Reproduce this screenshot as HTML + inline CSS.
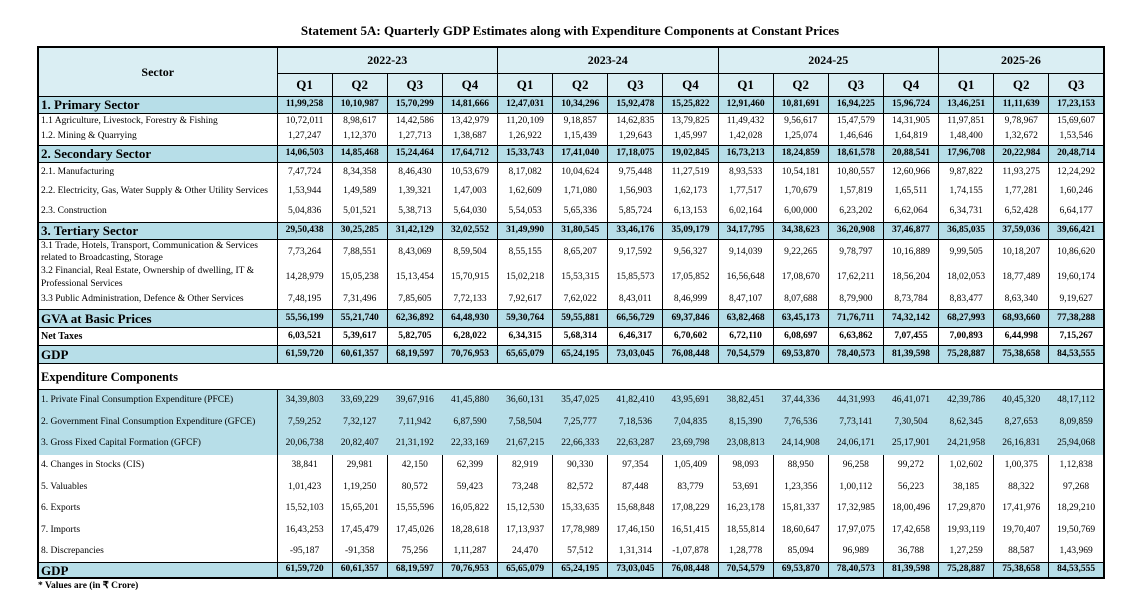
<!DOCTYPE html>
<html><head><meta charset="utf-8">
<style>
html,body{margin:0;padding:0;background:#fff;width:1125px;height:606px;overflow:hidden;font-family:"Liberation Serif",serif;color:#000}
#title{position:absolute;left:0;width:1140px;top:23px;text-align:center;font-weight:bold;font-size:13px}
#tbl{position:absolute;left:37px;top:46px;border-collapse:collapse;table-layout:fixed;border:2px solid #000}
#tbl td{padding:0;overflow:hidden;white-space:nowrap;border-left:1px solid #000;border-right:1px solid #000;font-size:9.5px;text-align:center;line-height:1}
#tbl td.lab{text-align:left;padding-left:2px;font-size:9.5px}
#tbl tr.hd td{background:#daeef3;font-weight:bold;border:1.5px solid #000}
#tbl tr.major td{background:#b7dee8;font-weight:bold;border-top:1.5px solid #000;border-bottom:1.5px solid #000}
#tbl tr.major td.lab{font-size:13px}
#tbl tr.net td{font-weight:bold;border-top:1.5px solid #000;border-bottom:1.5px solid #000}
#tbl tr.net td.lab{font-size:10px}
#tbl tr.exh td{border-top:1.5px solid #000;border-bottom:1px solid #000;font-weight:bold;font-size:12.5px}
#tbl tr.exp td{background:#b7dee8;border-left:1px solid #b7dee8;border-right:1px solid #b7dee8}
#tbl tr.exp td.lab{border-left:1px solid #000;border-right:1px solid #000}
#tbl tr.exp td.last{border-right:1px solid #000}
#tbl td.wrap{white-space:normal;line-height:1.35}
#note{position:absolute;left:38px;top:580px;font-size:9.5px;font-weight:bold}
</style></head><body>
<div id="title">Statement 5A: Quarterly GDP Estimates along with Expenditure Components at Constant Prices</div>
<table id="tbl"></table>
<div id="note">* Values are (in ₹ Crore)</div>
<script>
const years=["2022-23","2023-24","2024-25","2025-26"];
const quarterCounts=[4,4,4,3];
const rowLabels=["1. Primary Sector","1.1 Agriculture, Livestock, Forestry & Fishing","1.2. Mining & Quarrying","2. Secondary Sector","2.1. Manufacturing","2.2. Electricity, Gas, Water Supply & Other Utility Services","2.3. Construction","3. Tertiary Sector","3.1 Trade, Hotels, Transport, Communication & Services related to Broadcasting, Storage","3.2 Financial, Real Estate, Ownership of dwelling, IT & Professional Services","3.3 Public Administration, Defence & Other Services","GVA at Basic Prices","Net Taxes","GDP","Expenditure Components","1. Private Final Consumption Expenditure (PFCE)","2. Government Final Consumption Expenditure (GFCE)","3. Gross Fixed Capital Formation (GFCF)","4. Changes in Stocks (CIS)","5. Valuables","6. Exports","7. Imports","8. Discrepancies","GDP"];
const rowTypes=["major","minor","minor","major","minor","minor","minor","major","minor","minor","minor","major","net","major","exh","exp","exp","exp","minor","minor","minor","minor","minor","major"];
const rowHeights=[17,16,16,17,20,20,20,17,25,25,19,18,18,18,26,22,21,22,22,21,22,22,21,15];
const values=[
["11,99,258","10,10,987","15,70,299","14,81,666","12,47,031","10,34,296","15,92,478","15,25,822","12,91,460","10,81,691","16,94,225","15,96,724","13,46,251","11,11,639","17,23,153"],
["10,72,011","8,98,617","14,42,586","13,42,979","11,20,109","9,18,857","14,62,835","13,79,825","11,49,432","9,56,617","15,47,579","14,31,905","11,97,851","9,78,967","15,69,607"],
["1,27,247","1,12,370","1,27,713","1,38,687","1,26,922","1,15,439","1,29,643","1,45,997","1,42,028","1,25,074","1,46,646","1,64,819","1,48,400","1,32,672","1,53,546"],
["14,06,503","14,85,468","15,24,464","17,64,712","15,33,743","17,41,040","17,18,075","19,02,845","16,73,213","18,24,859","18,61,578","20,88,541","17,96,708","20,22,984","20,48,714"],
["7,47,724","8,34,358","8,46,430","10,53,679","8,17,082","10,04,624","9,75,448","11,27,519","8,93,533","10,54,181","10,80,557","12,60,966","9,87,822","11,93,275","12,24,292"],
["1,53,944","1,49,589","1,39,321","1,47,003","1,62,609","1,71,080","1,56,903","1,62,173","1,77,517","1,70,679","1,57,819","1,65,511","1,74,155","1,77,281","1,60,246"],
["5,04,836","5,01,521","5,38,713","5,64,030","5,54,053","5,65,336","5,85,724","6,13,153","6,02,164","6,00,000","6,23,202","6,62,064","6,34,731","6,52,428","6,64,177"],
["29,50,438","30,25,285","31,42,129","32,02,552","31,49,990","31,80,545","33,46,176","35,09,179","34,17,795","34,38,623","36,20,908","37,46,877","36,85,035","37,59,036","39,66,421"],
["7,73,264","7,88,551","8,43,069","8,59,504","8,55,155","8,65,207","9,17,592","9,56,327","9,14,039","9,22,265","9,78,797","10,16,889","9,99,505","10,18,207","10,86,620"],
["14,28,979","15,05,238","15,13,454","15,70,915","15,02,218","15,53,315","15,85,573","17,05,852","16,56,648","17,08,670","17,62,211","18,56,204","18,02,053","18,77,489","19,60,174"],
["7,48,195","7,31,496","7,85,605","7,72,133","7,92,617","7,62,022","8,43,011","8,46,999","8,47,107","8,07,688","8,79,900","8,73,784","8,83,477","8,63,340","9,19,627"],
["55,56,199","55,21,740","62,36,892","64,48,930","59,30,764","59,55,881","66,56,729","69,37,846","63,82,468","63,45,173","71,76,711","74,32,142","68,27,993","68,93,660","77,38,288"],
["6,03,521","5,39,617","5,82,705","6,28,022","6,34,315","5,68,314","6,46,317","6,70,602","6,72,110","6,08,697","6,63,862","7,07,455","7,00,893","6,44,998","7,15,267"],
["61,59,720","60,61,357","68,19,597","70,76,953","65,65,079","65,24,195","73,03,045","76,08,448","70,54,579","69,53,870","78,40,573","81,39,598","75,28,887","75,38,658","84,53,555"],
[],
["34,39,803","33,69,229","39,67,916","41,45,880","36,60,131","35,47,025","41,82,410","43,95,691","38,82,451","37,44,336","44,31,993","46,41,071","42,39,786","40,45,320","48,17,112"],
["7,59,252","7,32,127","7,11,942","6,87,590","7,58,504","7,25,777","7,18,536","7,04,835","8,15,390","7,76,536","7,73,141","7,30,504","8,62,345","8,27,653","8,09,859"],
["20,06,738","20,82,407","21,31,192","22,33,169","21,67,215","22,66,333","22,63,287","23,69,798","23,08,813","24,14,908","24,06,171","25,17,901","24,21,958","26,16,831","25,94,068"],
["38,841","29,981","42,150","62,399","82,919","90,330","97,354","1,05,409","98,093","88,950","96,258","99,272","1,02,602","1,00,375","1,12,838"],
["1,01,423","1,19,250","80,572","59,423","73,248","82,572","87,448","83,779","53,691","1,23,356","1,00,112","56,223","38,185","88,322","97,268"],
["15,52,103","15,65,201","15,55,596","16,05,822","15,12,530","15,33,635","15,68,848","17,08,229","16,23,178","15,81,337","17,32,985","18,00,496","17,29,870","17,41,976","18,29,210"],
["16,43,253","17,45,479","17,45,026","18,28,618","17,13,937","17,78,989","17,46,150","16,51,415","18,55,814","18,60,647","17,97,075","17,42,658","19,93,119","19,70,407","19,50,769"],
["-95,187","-91,358","75,256","1,11,287","24,470","57,512","1,31,314","-1,07,878","1,28,778","85,094","96,989","36,788","1,27,259","88,587","1,43,969"],
["61,59,720","60,61,357","68,19,597","70,76,953","65,65,079","65,24,195","73,03,045","76,08,448","70,54,579","69,53,870","78,40,573","81,39,598","75,28,887","75,38,658","84,53,555"]
];
const tbl=document.getElementById('tbl');
const LABW=239, COLW=55.13;
const cg=document.createElement('colgroup');
const c0=document.createElement('col');c0.style.width=LABW+'px';cg.appendChild(c0);
for(let i=0;i<15;i++){const c=document.createElement('col');c.style.width=COLW+'px';cg.appendChild(c);}
tbl.appendChild(cg);
const h1=document.createElement('tr');h1.className='hd';h1.style.height='26px';


const sc=document.createElement('td');sc.rowSpan=2;sc.textContent='Sector';sc.style.fontSize='12px';


h1.appendChild(sc);
years.forEach((y,i)=>{const td=document.createElement('td');td.colSpan=quarterCounts[i];td.textContent=y;td.style.fontSize='12px';


h1.appendChild(td);});
tbl.appendChild(h1);
const h2=document.createElement('tr');h2.className='hd';h2.style.height='23px';


years.forEach((y,i)=>{for(let q=1;q<=quarterCounts[i];q++){const td=document.createElement('td');td.textContent='Q'+q;td.style.fontSize='13px';


h2.appendChild(td);}});
tbl.appendChild(h2);
rowLabels.forEach((lab,r)=>{
  const tr=document.createElement('tr');tr.className=rowTypes[r];tr.style.height=rowHeights[r]+'px';
  
  
  const td=document.createElement('td');td.className='lab';td.textContent=lab;
  
  
  if(lab.length>70){td.classList.add('wrap');}
  if(rowTypes[r]==='exh'){td.colSpan=16;td.style.fontSize='12.5px';td.style.borderRight='0';}
  tr.appendChild(td);
  values[r].forEach((v,c)=>{const d=document.createElement('td');d.textContent=v;if(c===14)d.className='last';
    
    
    tr.appendChild(d);});
  tbl.appendChild(tr);
});
</script>
</body></html>
